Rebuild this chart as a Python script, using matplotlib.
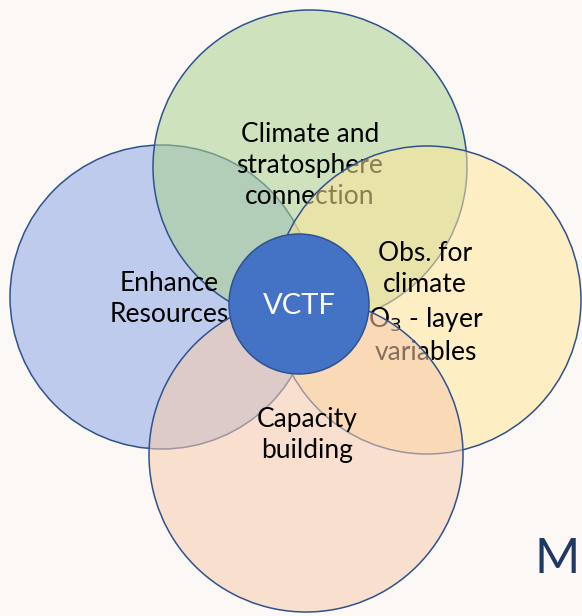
import matplotlib
matplotlib.use("Agg")
import matplotlib.pyplot as plt
from matplotlib.patches import Circle

plt.rcParams['font.family'] = ['Lato', 'DejaVu Sans']

# labels of the diagram
center_label = "VCTF"
outer_labels = ["Enhance\nResources",
                "Climate and\nstratosphere\nconnection",
                "Obs. for\nclimate",
                "Capacity\nbuilding"]
o3_label = "O$_3$ - layer\nvariables"
corner_label = "M"

# geometry (pixel units, y down)
circle_xy = [(162, 297), (310, 167), (427, 300), (306, 455)]
circle_r = [152, 157, 154, 157]
circle_fc = ["#8ca6e6", "#a9d18e", "#ffe699", "#f8cbad"]
label_xy = [(169, 299), (310, 166), (425, 269), (307, 435)]
o3_xy = (426, 335)

fig = plt.figure(figsize=(5.82, 6.16), dpi=100)
fig.patch.set_facecolor("#fcf8f6")
ax = fig.add_axes([0, 0, 1, 1])
ax.set_xlim(0, 582)
ax.set_ylim(616, 0)
ax.set_aspect('equal')
ax.axis('off')

edge = "#2f528f"
fs = 19
txt = dict(ha='center', va='center', fontsize=fs, color='black',
           linespacing=1.3)

def circle(i, z):
    ax.add_patch(Circle(circle_xy[i], circle_r[i], facecolor=circle_fc[i],
                        alpha=0.55, edgecolor="none", zorder=z))
    ax.add_patch(Circle(circle_xy[i], circle_r[i], facecolor="none",
                        edgecolor=edge, lw=1.1, zorder=z + 0.5))

circle(0, 1)
circle(1, 2)
ax.text(*label_xy[0], outer_labels[0], zorder=2.7, **txt)
ax.text(*label_xy[1], outer_labels[1], zorder=2.7, **txt)
circle(2, 3)
ax.text(*label_xy[2], outer_labels[2], zorder=3.7, **txt)
ax.text(*o3_xy, o3_label, zorder=3.7, **txt)
circle(3, 4)
ax.text(*label_xy[3], outer_labels[3], zorder=4.7, **txt)

ax.add_patch(Circle((299, 304), 70, facecolor="#4472c4", edgecolor=edge,
                    lw=1.1, zorder=10))
ax.text(299, 306, center_label, ha='center', va='center', fontsize=21,
        color='white', zorder=11)

ax.text(580, 573, corner_label, ha='right', va='baseline', fontsize=35,
        color="#1f3864", zorder=11)

fig.savefig("out.png", dpi=100, facecolor=fig.get_facecolor())
